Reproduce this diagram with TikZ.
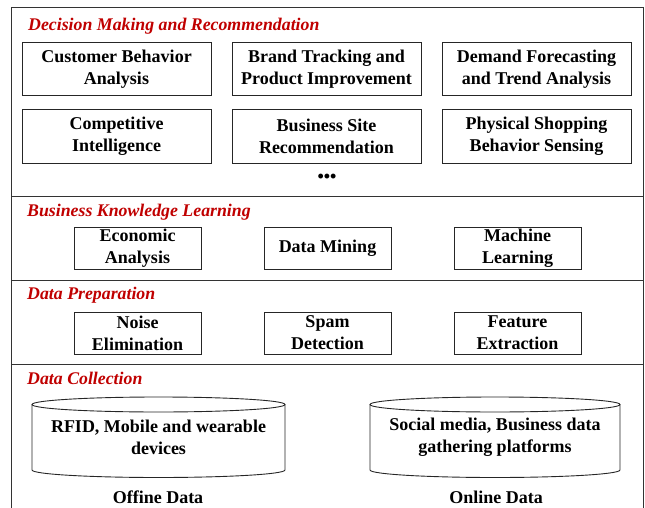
\documentclass[tikz,border=0pt]{standalone}
\usepackage{fontspec}
\setmainfont{Liberation Serif}
\usepackage{xcolor}
\definecolor{layerred}{RGB}{192,0,0}
\usetikzlibrary{positioning}

\begin{document}
\begin{tikzpicture}[
    x=1pt, y=1pt,
    node distance=20pt,
    box/.style={rectangle, draw=black!85, line width=1pt, minimum width=189pt, minimum height=53pt, align=center, inner sep=2pt, font=\fontsize{18}{22}\selectfont\bfseries},
    smallbox/.style={box, minimum width=127pt, minimum height=42pt},
    layer/.style={anchor=base west, inner sep=0pt, text=layerred, font=\fontsize{17.8}{22}\selectfont\bfseries\itshape},
    caption/.style={anchor=base, inner sep=0pt, font=\fontsize{18}{22}\selectfont\bfseries},
    storetext/.style={align=center, inner sep=0pt, font=\fontsize{18}{22}\selectfont\bfseries},
    store/.style={line width=0.9pt, draw=black!85},
    frame/.style={line width=0.8pt, draw=black!80}
]
\useasboundingbox (0,0) rectangle (645,-508);

% Frame and layer separators
\draw[frame] (11,-508) -- (11,-7) -- (643,-7) -- (643,-508);
\foreach \y in {196,280,364}
    \draw[frame] (11,-\y) -- (643,-\y);

% Decision making
\node[layer] (decT) at (28,-31) {Decision Making and Recommendation};
\node[box] (cba) at (116.5,-69.5) {Customer Behavior\\Analysis};
\node[box, right=of cba] (btp) {Brand Tracking and\\Product Improvement};
\node[box, right=of btp] (dft) {Demand Forecasting\\and Trend Analysis};
\node[box, below=13pt of cba] (ci) {Competitive\\Intelligence};
\node[box, right=of ci] (bsr) {Business Site\\Recommendation};
\node[box, right=of bsr] (psb) {Physical Shopping\\Behavior Sensing};
\node[storetext] (dots) at (327,-178) {•••};

% Business knowledge
\node[layer] (bklT) at (27,-216) {Business Knowledge Learning};
\node[smallbox] (eco) at (137.5,-248.5) {Economic\\Analysis};
\node[smallbox, right=62pt of eco] (dm) {Data Mining};
\node[smallbox, right=62pt of dm] (ml) {Machine\\Learning};

% Data preparation
\node[layer] (dpT) at (27,-299) {Data Preparation};
\node[smallbox] (noise) at (137.5,-333) {Noise\\Elimination};
\node[smallbox, right=62pt of noise] (spam) {Spam\\Detection};
\node[smallbox, right=62pt of spam] (feat) {Feature\\Extraction};

% Data collection
\node[layer] (dcT) at (27,-384) {Data Collection};
\draw[store] (158.5,-404.5) ellipse [x radius=126.5, y radius=7.5];
\draw[store] (32,-404.5) -- (32,-470) arc[start angle=180, end angle=360, x radius=126.5, y radius=7.5] -- (285,-404.5);
\node[storetext] (offline) at (158.5,-437.5) {RFID, Mobile and wearable\\devices};
\draw[store] (495,-404.5) ellipse [x radius=125, y radius=7.5];
\draw[store] (370,-404.5) -- (370,-470) arc[start angle=180, end angle=360, x radius=125, y radius=7.5] -- (620,-404.5);
\node[storetext] (online) at (495,-437.5) {Social media, Business data\\gathering platforms};
\node[caption] (offT) at (158,-503) {Offine Data};
\node[caption] (onT) at (496,-503) {Online Data};
\end{tikzpicture}
\end{document}
